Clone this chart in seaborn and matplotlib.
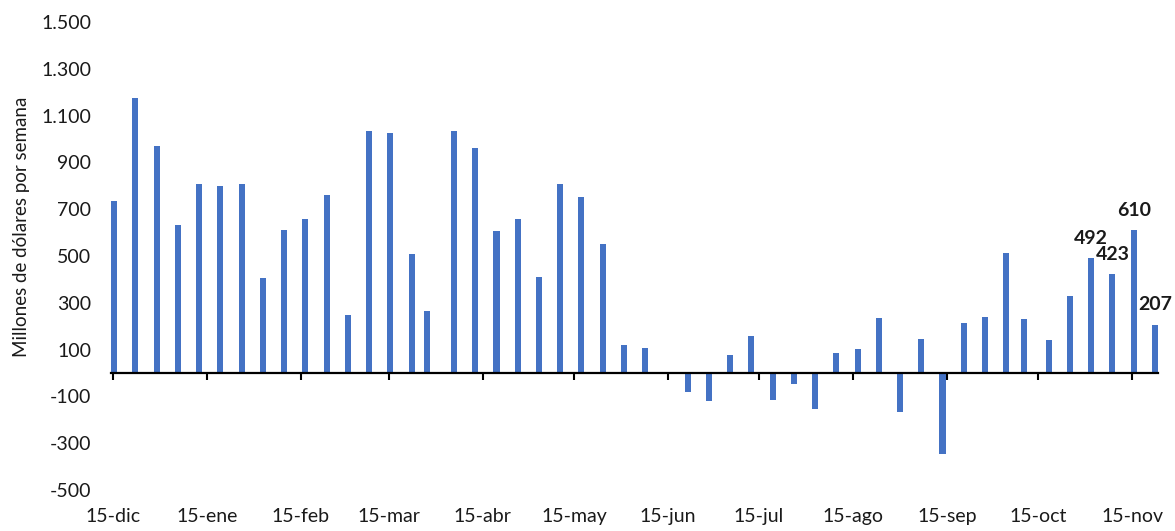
import pandas as pd
import matplotlib
matplotlib.use("Agg")
import matplotlib.pyplot as plt
import matplotlib.dates as mdates
import seaborn as sns

# Datos semanales (millones de dólares por semana)
fechas = [
    "2019-12-15", "2019-12-22", "2019-12-29",
    "2020-01-05", "2020-01-12", "2020-01-19", "2020-01-26",
    "2020-02-02", "2020-02-09", "2020-02-16", "2020-02-23",
    "2020-03-01", "2020-03-08", "2020-03-15", "2020-03-22", "2020-03-27",
    "2020-04-05", "2020-04-12", "2020-04-19", "2020-04-26",
    "2020-05-03", "2020-05-10", "2020-05-17", "2020-05-24", "2020-05-31",
    "2020-06-07", "2020-06-21", "2020-06-28",
    "2020-07-05", "2020-07-12", "2020-07-19", "2020-07-26",
    "2020-08-02", "2020-08-09", "2020-08-16", "2020-08-23", "2020-08-30",
    "2020-09-06", "2020-09-13", "2020-09-20", "2020-09-27",
    "2020-10-04", "2020-10-10", "2020-10-18", "2020-10-25",
    "2020-11-01", "2020-11-08", "2020-11-15", "2020-11-22",
]
valores = [
    733, 1174, 972,
    632, 808, 798, 808,
    405, 612, 658, 760,
    247, 1036, 1024, 508, 266,
    1036, 962, 606, 658,
    409, 808, 754, 553, 120,
    106, -83, -120,
    77, 157, -115, -46,
    -155, 87, 101, 235, -168,
    145, -347, 215, 241,
    512, 232, 143, 331,
    492, 423, 610, 207,
]
etiquetadas = ["2020-11-01", "2020-11-08", "2020-11-15", "2020-11-22"]

ticks_fechas = ["2019-12-15", "2020-01-15", "2020-02-15", "2020-03-15", "2020-04-15",
                "2020-05-15", "2020-06-15", "2020-07-15", "2020-08-15", "2020-09-15",
                "2020-10-15", "2020-11-15"]
ticks_etiquetas = ["15-dic", "15-ene", "15-feb", "15-mar", "15-abr", "15-may",
                   "15-jun", "15-jul", "15-ago", "15-sep", "15-oct", "15-nov"]
y_ticks = [-500, -300, -100, 100, 300, 500, 700, 900, 1100, 1300, 1500]

df = pd.DataFrame({"fecha": pd.to_datetime(fechas), "valor": valores})
# centro del día, como en el eje de fechas de Excel
df["x"] = mdates.date2num(df["fecha"]) + 0.5

sns.set_style("white")
plt.rcParams["font.family"] = ["Lato", "DejaVu Sans"]
texto = "#1a1a1a"

fig = plt.figure(figsize=(11.75, 5.31), dpi=100)
ax = fig.add_axes([0.0946, 0.0772, 0.8909, 0.8814])

sns.barplot(data=df, x="x", y="valor", native_scale=True, width=0.4,
            color="#4472C4", saturation=1, errorbar=None, linewidth=0, ax=ax)

# Eje X
x_ticks = mdates.date2num(pd.to_datetime(ticks_fechas))
ax.set_xlim(mdates.date2num(pd.Timestamp(fechas[0])) - 0.5,
            mdates.date2num(pd.Timestamp(fechas[-1])) + 1.5)
ax.set_xticks(x_ticks)
ax.set_xticklabels(ticks_etiquetas)
ax.tick_params(axis="x", bottom=True, direction="out", length=5, width=1.5,
               color="black", pad=92, labelsize=14, labelcolor=texto)

# Eje Y
ax.set_ylim(-500, 1500)
ax.set_yticks(y_ticks)
ax.set_yticklabels([f"{v:,}".replace(",", ".") for v in y_ticks])
ax.tick_params(axis="y", length=0, pad=14.5, labelsize=14, labelcolor=texto)

for s in ["top", "right", "left"]:
    ax.spines[s].set_visible(False)
ax.spines["bottom"].set_position(("data", 0))
ax.spines["bottom"].set_linewidth(1.6)
ax.spines["bottom"].set_color("black")

ax.set_xlabel("")
ax.set_ylabel("")
fig.text(0.0179, 0.5734, "Millones de dólares por semana", rotation=90,
         ha="center", va="center", fontsize=13.5, color=texto)

# Etiquetas de las últimas semanas
for f in etiquetadas:
    fila = df[df["fecha"] == pd.Timestamp(f)].iloc[0]
    ax.annotate(str(fila["valor"]), (fila["x"], fila["valor"]), xytext=(0, 8),
                textcoords="offset points", ha="center", va="bottom",
                fontsize=14, fontweight="bold", color=texto)

plt.savefig("out.png", dpi=100)
plt.close()
